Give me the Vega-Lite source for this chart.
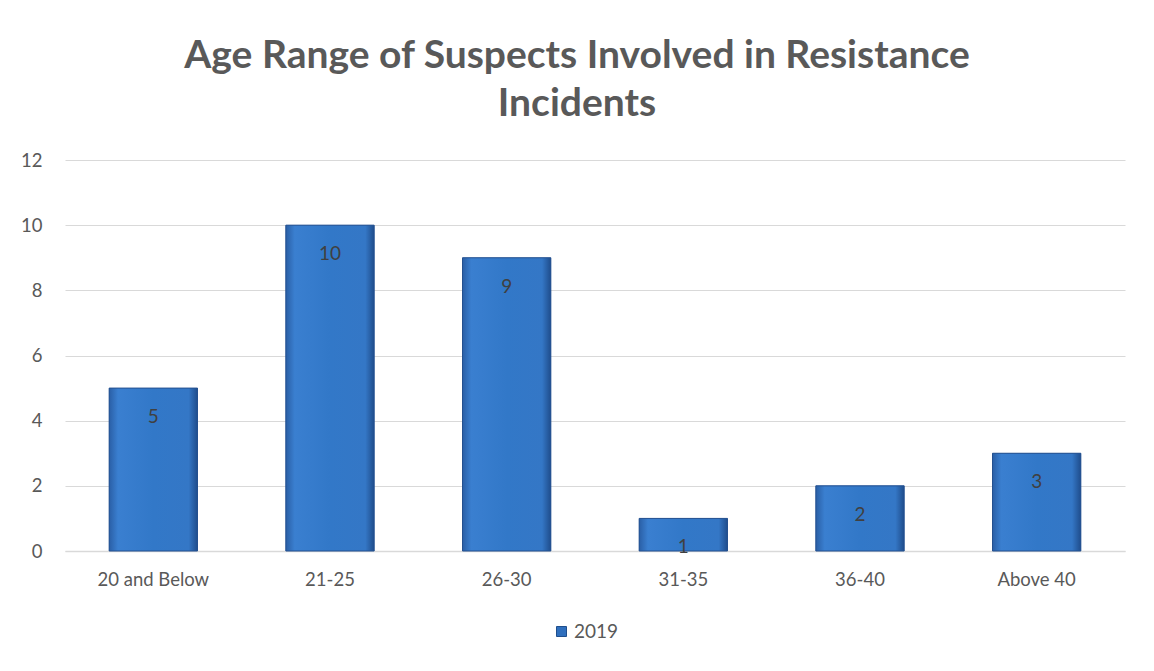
{
  "$schema": "https://vega.github.io/schema/vega-lite/v6.json",
  "width": 1060,
  "height": 391,
  "autosize": {"type": "none"},
  "padding": {"left": 65, "top": 160, "right": 29, "bottom": 120},
  "background": "white",
  "title": {
    "text": ["Age Range of Suspects Involved in Resistance", "Incidents"],
    "font": "Lato",
    "fontSize": 39,
    "fontWeight": "bold",
    "color": "#595959",
    "anchor": "middle",
    "frame": "group",
    "dx": -18,
    "lineHeight": 48,
    "offset": 27
  },
  "config": {
    "view": {"stroke": null},
    "font": "Lato",
    "axis": {"labelFont": "Lato", "labelColor": "#595959", "labelFontSize": 18.5}
  },
  "data": {
    "values": [
      {"age": "20 and Below", "count": 5, "year": "2019"},
      {"age": "21-25", "count": 10, "year": "2019"},
      {"age": "26-30", "count": 9, "year": "2019"},
      {"age": "31-35", "count": 1, "year": "2019"},
      {"age": "36-40", "count": 2, "year": "2019"},
      {"age": "Above 40", "count": 3, "year": "2019"}
    ]
  },
  "encoding": {
    "x": {
      "field": "age",
      "type": "nominal",
      "sort": null,
      "scale": {"paddingInner": 0.5, "paddingOuter": 0.25},
      "axis": {"title": null, "labelAngle": 0, "domainColor": "#d9d9d9", "domainWidth": 1.5, "ticks": false, "labelPadding": 19}
    },
    "y": {
      "field": "count",
      "type": "quantitative",
      "scale": {"domain": [0, 12]},
      "axis": {"title": null, "values": [0, 2, 4, 6, 8, 10, 12], "domain": false, "ticks": false, "gridColor": "#d9d9d9", "gridWidth": 1.2, "labelPadding": 23}
    }
  },
  "layer": [
    {
      "mark": {"type": "bar"},
      "encoding": {
        "color": {
          "field": "year",
          "type": "nominal",
          "scale": {"range": ["#2f6fbd"]},
          "legend": {
            "title": null,
            "orient": "none",
            "legendX": 487,
            "legendY": 462,
            "symbolType": "square",
            "symbolSize": 100,
            "symbolStrokeColor": "#1f4e8c",
            "symbolStrokeWidth": 1,
            "labelFontSize": 19,
            "labelColor": "#595959",
            "labelFont": "Lato",
            "labelOffset": 3
          }
        }
      }
    },
    {
      "mark": {
        "type": "bar",
        "stroke": "#24508f",
        "strokeWidth": 1,
        "fill": {
          "x1": 0, "y1": 0, "x2": 1, "y2": 0,
          "gradient": "linear",
          "stops": [
            {"offset": 0, "color": "#2a5fa6"},
            {"offset": 0.1, "color": "#3a7fd0"},
            {"offset": 0.5, "color": "#3278c8"},
            {"offset": 0.9, "color": "#3477c6"},
            {"offset": 1, "color": "#1f4d8c"}
          ]
        }
      }
    },
    {
      "mark": {"type": "text", "baseline": "middle", "dy": 29, "fontSize": 19, "color": "#404040", "font": "Lato"},
      "encoding": {"text": {"field": "count", "type": "quantitative"}}
    }
  ]
}
